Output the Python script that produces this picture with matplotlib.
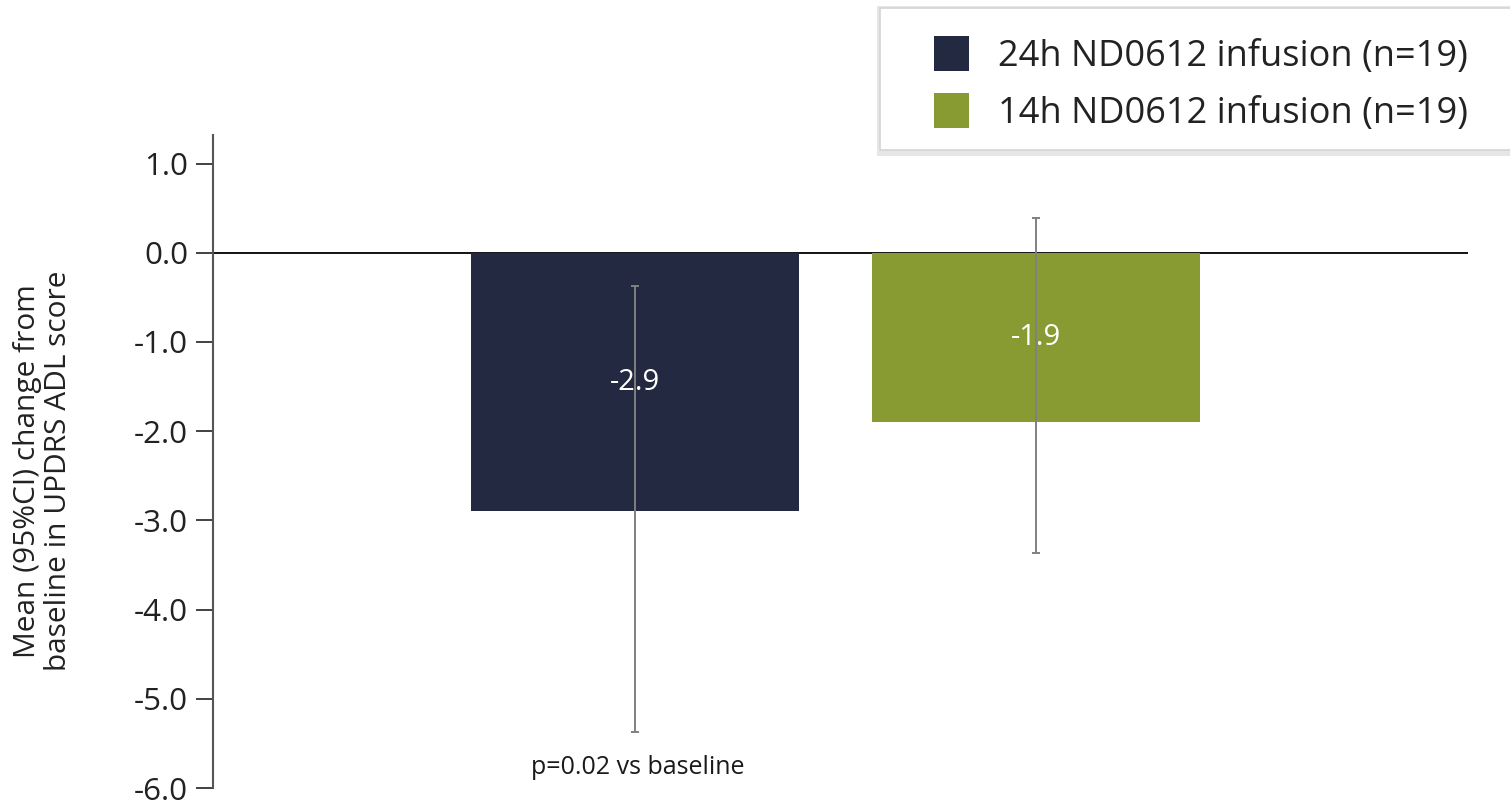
import numpy as np
import matplotlib
matplotlib.use('Agg')
import matplotlib.pyplot as plt
from matplotlib.patches import Rectangle

plt.rcParams['font.family'] = ['Open Sans', 'DejaVu Sans']

# data to plot
groups = ['24h ND0612 infusion (n=19)', '14h ND0612 infusion (n=19)']
means = [-2.9, -1.9]
ci_low = [-5.37, -3.37]
ci_high = [-0.37, 0.39]
bar_labels = ['-2.9', '-1.9']
colors = ['#222940', '#889b32']
yticks = [1.0, 0.0, -1.0, -2.0, -3.0, -4.0, -5.0, -6.0]

W, H = 1510, 801
fig = plt.figure(figsize=(15.1, 8.01), dpi=100)
ax = fig.add_axes([213 / W, (H - 788) / H, 1255 / W, 653 / H])

index = np.arange(len(groups))
bar_width = 0.82

for i in index:
    ax.bar(index[i], means[i], bar_width, color=colors[i], label=groups[i],
           zorder=2)
    err = [[means[i] - ci_low[i]], [ci_high[i] - means[i]]]
    ax.errorbar(index[i], means[i], yerr=err, fmt='none', ecolor='#808080',
                elinewidth=1.4, capsize=3, capthick=1.4, zorder=3)
    ax.text(index[i], means[i] / 2, bar_labels[i], color='white',
            fontsize=21, ha='center', va='center', zorder=4)

ax.axhline(0, color='black', lw=1.3, zorder=1)

ax.set_xlim(-1.055, 2.08)
ax.set_ylim(-6.0, 1.32)
ax.set_yticks(yticks)
ax.set_yticklabels(['%.1f' % t for t in yticks])
ax.tick_params(axis='y', labelsize=22.5, length=12, width=1.3, color='#333333',
               labelcolor='#222222', pad=6)
ax.set_xticks([])

for s in ['top', 'right', 'bottom']:
    ax.spines[s].set_visible(False)
ax.spines['left'].set_color('#555555')
ax.spines['left'].set_linewidth(1.5)

fig.text(43 / W, 1 - 471 / H,
         'Mean (95%CI) change from\nbaseline in UPDRS ADL score',
         rotation=90, fontsize=21.5, ha='center', va='center',
         color='#222222', linespacing=1.1)
fig.text(638 / W, 1 - 767 / H, 'p=0.02 vs baseline', fontsize=18,
         ha='center', va='center', color='#1a1a1a')

# legend box with soft shadow
fig.patches.append(Rectangle((877 / W, 1 - 156 / H), 640 / W, 150 / H,
                             transform=fig.transFigure, facecolor='#e6e6e6',
                             edgecolor='none', zorder=0))
fig.patches.append(Rectangle((880 / W, 1 - 150 / H), 640 / W, 142 / H,
                             transform=fig.transFigure, facecolor='white',
                             edgecolor='#d4d4d4', lw=1.2, zorder=1))

leg = fig.legend(loc='upper left', bbox_to_anchor=(934 / W, 1 - 36 / H),
                 fontsize=26, frameon=False,
                 handlelength=0.97, handleheight=1.13, handletextpad=0.8,
                 labelspacing=0.5, borderpad=0, borderaxespad=0)
for t in leg.get_texts():
    t.set_color('#222222')

plt.savefig('out.png', dpi=100)
